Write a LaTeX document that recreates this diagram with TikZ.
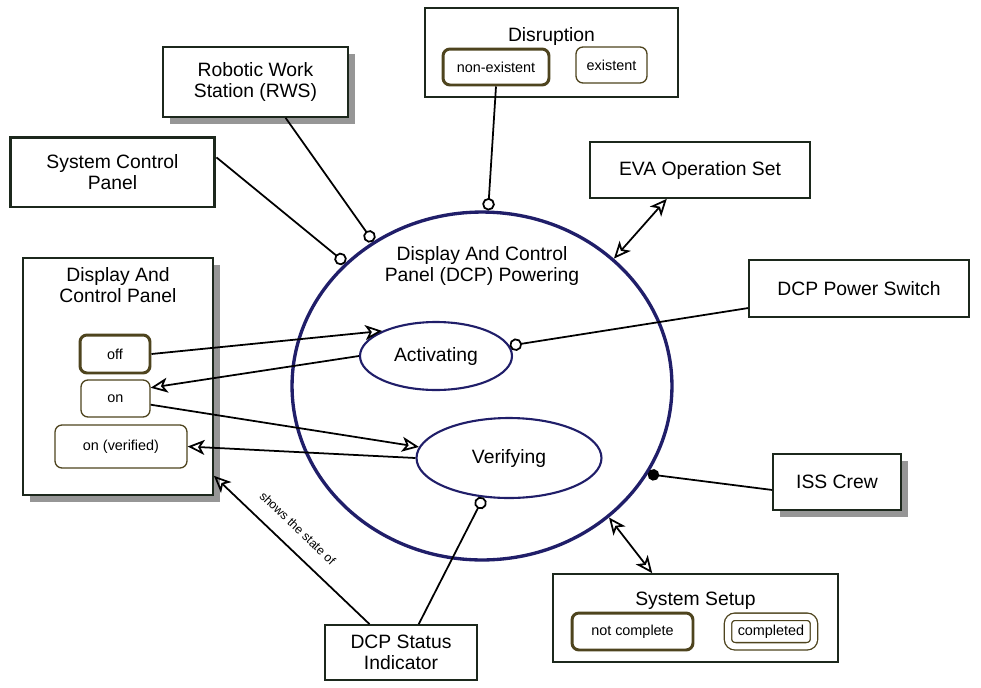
\documentclass[tikz,border=0pt]{standalone}
\usepackage{fontspec}
\setmainfont{Liberation Sans}
\usetikzlibrary{arrows.meta,shapes.geometric,shadows}
\definecolor{objline}{RGB}{28,40,28}
\definecolor{stateline}{RGB}{78,68,30}
\definecolor{procline}{RGB}{32,30,105}
\definecolor{shadowgray}{RGB}{150,150,150}

\begin{document}
\begin{tikzpicture}[x=0.02cm,y=-0.02cm,
  font=\fontsize{11}{12}\selectfont,
  object/.style={rectangle,draw=objline,line width=1pt,fill=white,align=center,inner sep=2pt},
  physical/.style={object,drop shadow={shadow xshift=0.14cm,shadow yshift=-0.14cm,fill=shadowgray,opacity=1}},
  state/.style={rectangle,draw=stateline,line width=0.75pt,rounded corners=4pt,fill=white,font=\fontsize{8.2}{9}\selectfont},
  initial/.style={state,line width=1.7pt},
  final/.style={state,double,double distance=0.12cm},
  process/.style={ellipse,draw=procline,line width=1.2pt,fill=white},
  link/.style={draw=black,line width=1pt},
  instrument/.style={link,-{Circle[open,length=0.25cm]}},
  agent/.style={link,-{Circle[length=0.23cm]}},
  effect/.style={link,-{Stealth[open,length=0.34cm,width=0.3cm,inset=0.09cm]}},
  bidir/.style={link,{Stealth[open,length=0.34cm,width=0.3cm,inset=0.09cm]}-{Stealth[open,length=0.34cm,width=0.3cm,inset=0.09cm]}}]
\useasboundingbox (0,0) rectangle (981,687);

\begin{scope}[]
\node[process,line width=1.9pt,minimum width=7.6cm,minimum height=6.96cm,
  label={[anchor=north,yshift=-0.6cm,align=center]north:Display And Control\\Panel (DCP) Powering}] (dcp) at (482,386) {};
\node[process,minimum width=3.04cm,minimum height=1.36cm] (act) at (436,356) {Activating};
\node[process,minimum width=3.7cm,minimum height=1.6cm] (ver) at (509,458) {Verifying};
\end{scope}

\begin{scope}[]
\node[object,line width=1.7pt,minimum width=4.1cm,minimum height=1.4cm] (scp) at (112.5,172) {System Control\\Panel};
\node[physical,minimum width=3.7cm,minimum height=1.4cm] (rws) at (255.5,82) {Robotic Work\\Station (RWS)};
\node[object,minimum width=4.4cm,minimum height=1.12cm] (eva) at (700,170) {EVA Operation Set};
\node[object,minimum width=4.4cm,minimum height=1.14cm] (psw) at (859,288.5) {DCP Power Switch};
\node[physical,minimum width=2.56cm,minimum height=1.12cm] (iss) at (837,482) {ISS Crew};
\node[object,minimum width=3.04cm,minimum height=1.1cm] (dsi) at (401,652.5) {DCP Status\\Indicator};
\end{scope}

\begin{scope}[]
\node[object,minimum width=5.06cm,minimum height=1.78cm,
  label={[anchor=north,yshift=-0.28cm]north:Disruption}] (dis) at (551.5,52.5) {};
\node[initial,minimum width=2.12cm,minimum height=0.72cm] (nonex) at (496,67) {non-existent};
\node[state,minimum width=1.42cm,minimum height=0.72cm] (exist) at (611.5,65) {existent};
\end{scope}

\begin{scope}[]
\node[object,minimum width=5.7cm,minimum height=1.76cm,
  label={[anchor=north,yshift=-0.26cm]north:System Setup}] (setup) at (695.5,618) {};
\node[initial,minimum width=2.42cm,minimum height=0.74cm] (notc) at (632.5,631.5) {not complete};
\node[final,minimum width=1.72cm,minimum height=0.59cm] (compl) at (771,631.5) {completed};
\end{scope}

\begin{scope}[]
\node[physical,minimum width=3.8cm,minimum height=4.74cm,
  label={[anchor=north,yshift=-0.08cm,align=center]north:Display And\\Control Panel}] (dacp) at (118,376.5) {};
\node[initial,minimum width=1.4cm,minimum height=0.76cm] (off) at (115,354) {off};
\node[state,minimum width=1.38cm,minimum height=0.74cm] (on) at (115.5,398.5) {on};
\node[state,minimum width=2.64cm,minimum height=0.86cm] (onv) at (121,446.5) {on (verified)};
\end{scope}

\draw[instrument] (scp.8) -- (dcp.138.8);
\draw[instrument] (rws.-50) -- (dcp.127.4);
\draw[instrument] (nonex.south) -- (dcp.88);
\draw[bidir] (eva.221) -- (dcp.44.6);
\draw[instrument] (psw.190) -- (act.8);
\draw[agent] (iss.187) -- (dcp.-28.7);
\draw[bidir] (setup.134.7) -- (dcp.-46.5);
\draw[instrument] (dsi.58) -- (ver.237);
\draw[effect] (dsi.138.4) -- node[sloped,above=5pt,pos=0.55,font=\fontsize{7}{8}\selectfont] {shows the state of} (dacp.-46.6);
\draw[effect] (off.east) -- (act.155);
\draw[effect] (act.west) -- (on.17);
\draw[effect] (on.-10) -- (ver.173);
\draw[effect] (ver.west) -- (onv.east);
\end{tikzpicture}
\end{document}
